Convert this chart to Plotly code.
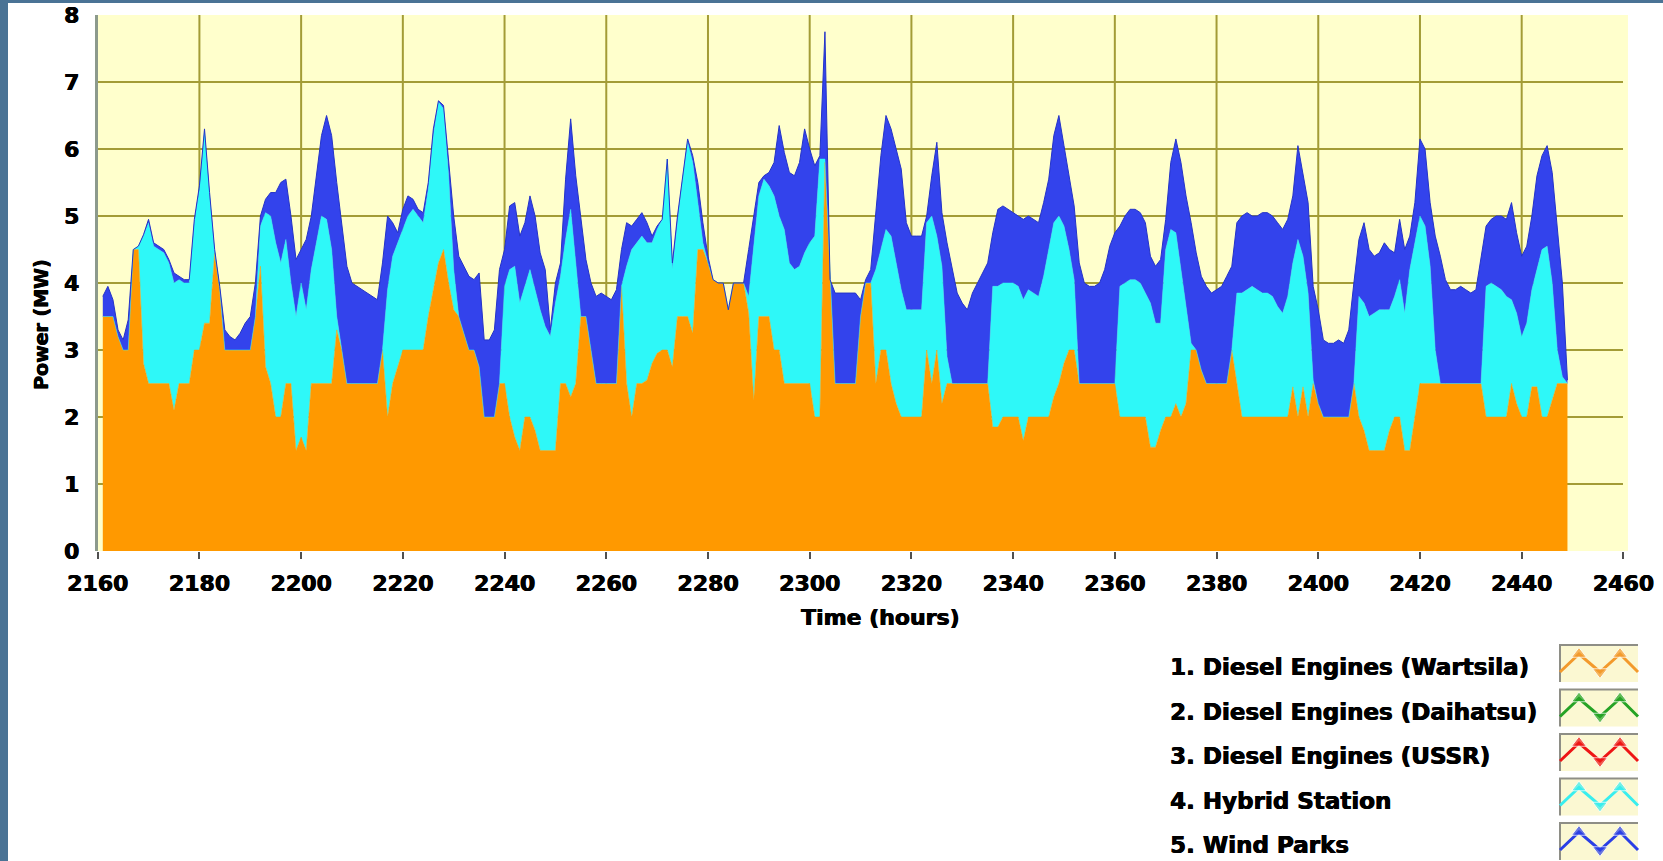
import plotly.graph_objects as go

# ---------------------------------------------------------------------------
# Hourly dispatch of the island power system (MW), hours 2161-2449
# ---------------------------------------------------------------------------
hours = list(range(2161, 2450))

diesel_wartsila = [
    3.5, 3.5, 3.5, 3.2, 3.0, 3.0, 4.5, 4.5, 2.8, 2.5,
    2.5, 2.5, 2.5, 2.5, 2.1, 2.5, 2.5, 2.5, 3.0, 3.0,
    3.4, 3.4, 4.45, 3.9, 3.0, 3.0, 3.0, 3.0, 3.0, 3.0,
    3.5, 4.25, 2.75, 2.5, 2.0, 2.0, 2.5, 2.5, 1.5, 1.7,
    1.5, 2.5, 2.5, 2.5, 2.5, 2.5, 3.3, 3.0, 2.5, 2.5,
    2.5, 2.5, 2.5, 2.5, 2.5, 3.0, 2.0, 2.5, 2.75, 3.0,
    3.0, 3.0, 3.0, 3.0, 3.5, 3.9, 4.3, 4.5, 4.0, 3.6,
    3.5, 3.25, 3.0, 3.0, 2.75, 2.0, 2.0, 2.0, 2.5, 2.5,
    2.0, 1.7, 1.5, 2.0, 2.0, 1.8, 1.5, 1.5, 1.5, 1.5,
    2.5, 2.5, 2.3, 2.5, 3.5, 3.5, 3.0, 2.5, 2.5, 2.5,
    2.5, 2.5, 3.95, 2.5, 2.0, 2.5, 2.5, 2.55, 2.8, 2.95,
    3.0, 3.0, 2.75, 3.5, 3.5, 3.5, 3.25, 4.5, 4.5, 4.3,
    4.05, 4.0, 4.0, 3.6, 4.0, 4.0, 4.0, 3.55, 2.25, 3.5,
    3.5, 3.5, 3.0, 3.0, 2.5, 2.5, 2.5, 2.5, 2.5, 2.5,
    2.0, 2.0, 5.8, 4.05, 2.5, 2.5, 2.5, 2.5, 2.5, 3.5,
    4.0, 4.0, 2.5, 3.0, 3.0, 2.5, 2.2, 2.0, 2.0, 2.0,
    2.0, 2.0, 3.0, 2.5, 3.0, 2.2, 2.5, 2.5, 2.5, 2.5,
    2.5, 2.5, 2.5, 2.5, 2.5, 1.85, 1.85, 2.0, 2.0, 2.0,
    2.0, 1.65, 2.0, 2.0, 2.0, 2.0, 2.0, 2.3, 2.5, 2.8,
    3.0, 3.0, 2.5, 2.5, 2.5, 2.5, 2.5, 2.5, 2.5, 2.5,
    2.0, 2.0, 2.0, 2.0, 2.0, 2.0, 1.55, 1.55, 1.8, 2.0,
    2.0, 2.2, 2.0, 2.2, 3.0, 3.0, 2.7, 2.5, 2.5, 2.5,
    2.5, 2.5, 3.0, 2.5, 2.0, 2.0, 2.0, 2.0, 2.0, 2.0,
    2.0, 2.0, 2.0, 2.0, 2.45, 2.0, 2.45, 2.0, 2.5, 2.2,
    2.0, 2.0, 2.0, 2.0, 2.0, 2.0, 2.5, 2.0, 1.8, 1.5,
    1.5, 1.5, 1.5, 1.8, 2.0, 2.0, 1.5, 1.5, 2.0, 2.5,
    2.5, 2.5, 2.5, 2.5, 2.5, 2.5, 2.5, 2.5, 2.5, 2.5,
    2.5, 2.5, 2.0, 2.0, 2.0, 2.0, 2.0, 2.5, 2.2, 2.0,
    2.0, 2.45, 2.45, 2.0, 2.0, 2.25, 2.5, 2.5, 2.5,
]

hybrid_station = [
    0, 0, 0, 0, 0, 0, 0, 0.05, 1.9, 2.4,
    2.05, 2.0, 1.95, 1.8, 1.9, 1.55, 1.5, 1.5, 1.9, 2.4,
    2.85, 1.9, 0, 0, 0, 0, 0, 0, 0, 0,
    0, 0.6, 2.3, 2.5, 2.6, 2.3, 2.15, 1.5, 2.0, 2.3,
    2.1, 1.7, 2.1, 2.5, 2.45, 2.0, 0.2, 0, 0, 0,
    0, 0, 0, 0, 0, 0, 1.9, 1.9, 1.85, 1.8,
    2.0, 2.1, 2.0, 1.9, 1.9, 2.3, 2.4, 2.1, 1.6, 0.6,
    0, 0, 0, 0, 0, 0, 0, 0, 0, 1.45,
    2.2, 2.55, 2.2, 1.95, 2.2, 2.1, 2.1, 1.85, 1.7, 2.2,
    1.6, 2.15, 2.8, 1.8, 0, 0, 0, 0, 0, 0,
    0, 0, 0, 1.75, 2.5, 2.1, 2.2, 2.05, 1.8, 1.85,
    1.95, 2.85, 1.45, 1.4, 2.05, 2.6, 2.55, 0.7, 0.1, 0,
    0, 0, 0, 0, 0, 0, 0, 0.25, 2.25, 1.8,
    2.05, 1.95, 2.3, 2.0, 2.3, 1.8, 1.7, 1.75, 1.95, 2.1,
    2.7, 3.85, 0.05, 0, 0, 0, 0, 0, 0, 0,
    0, 0, 1.7, 1.5, 1.8, 2.2, 2.1, 1.9, 1.6, 1.6,
    1.6, 1.6, 1.9, 2.5, 1.7, 2.05, 0.4, 0, 0, 0,
    0, 0, 0, 0, 0, 2.1, 2.1, 2.0, 2.0, 2.0,
    1.95, 2.1, 1.9, 1.85, 1.8, 2.1, 2.5, 2.6, 2.5, 2.05,
    1.5, 1.05, 0, 0, 0, 0, 0, 0, 0, 0,
    1.95, 2.0, 2.05, 2.05, 2.0, 1.85, 2.15, 1.85, 1.6, 2.5,
    2.8, 2.55, 2.2, 1.4, 0.1, 0, 0, 0, 0, 0,
    0, 0, 0, 1.35, 1.85, 1.9, 1.95, 1.9, 1.85, 1.85,
    1.8, 1.65, 1.55, 1.8, 1.85, 2.65, 1.95, 1.85, 0.05, 0,
    0, 0, 0, 0, 0, 0, 0, 1.8, 1.9, 2.0,
    2.05, 2.1, 2.1, 1.8, 1.8, 2.05, 2.05, 2.7, 2.6, 2.5,
    2.35, 1.75, 0.5, 0, 0, 0, 0, 0, 0, 0,
    0, 0, 1.95, 2.0, 1.95, 1.9, 1.8, 1.25, 1.35, 1.2,
    1.4, 1.45, 1.75, 2.5, 2.55, 1.75, 0.5, 0.1, 0,
]

wind_parks = [
    0.3, 0.45, 0.25, 0.1, 0.15, 0.45, 0, 0, 0.02, 0.05,
    0.05, 0.05, 0.05, 0.05, 0.15, 0.05, 0.05, 0.05, 0.05, 0.05,
    0.05, 0.05, 0.05, 0.05, 0.3, 0.2, 0.15, 0.25, 0.4, 0.5,
    0.5, 0.15, 0.2, 0.35, 0.75, 1.2, 0.9, 1.0, 0.85, 0.5,
    1.05, 0.8, 1.0, 1.2, 1.55, 1.7, 2.0, 1.9, 1.75, 1.5,
    1.45, 1.4, 1.35, 1.3, 1.25, 1.3, 1.1, 0.5, 0.15, 0.3,
    0.3, 0.15, 0.1, 0.15, 0.1, 0.1, 0.02, 0.05, 0.2, 0.8,
    0.9, 1.0, 1.1, 1.05, 1.4, 1.15, 1.15, 1.3, 1.7, 0.55,
    0.95, 0.95, 1.0, 0.95, 1.1, 1.1, 0.85, 0.85, 0.1, 0.3,
    0.2, 0.9, 1.35, 1.3, 1.5, 0.85, 1.0, 1.3, 1.35, 1.3,
    1.25, 1.4, 0.55, 0.65, 0.35, 0.35, 0.35, 0.3, 0.1, 0.05,
    0, 0, 0.1, 0.1, 0.05, 0.05, 0.1, 0.3, 0.3, 0.1,
    0, 0, 0, 0, 0, 0, 0, 0.7, 0.5, 0.2,
    0.05, 0.2, 0.5, 1.35, 1.15, 1.35, 1.4, 1.55, 1.85, 1.4,
    1.05, 0.05, 1.9, 0, 1.35, 1.35, 1.35, 1.35, 1.35, 0.25,
    0.05, 0.2, 0.85, 1.4, 1.7, 1.6, 1.7, 1.8, 1.3, 1.1,
    1.1, 1.1, 0.1, 0.6, 1.4, 0.8, 1.7, 1.7, 1.35, 1.2,
    1.1, 1.35, 1.5, 1.65, 1.8, 0.8, 1.15, 1.15, 1.1, 1.05,
    1.05, 1.2, 1.1, 1.1, 1.1, 1.1, 1.05, 1.3, 1.5, 1.2,
    1.1, 1.1, 1.8, 1.5, 1.45, 1.45, 1.5, 1.7, 2.05, 2.25,
    0.9, 1.0, 1.05, 1.05, 1.05, 1.05, 0.7, 0.85, 0.95, 0.45,
    1.0, 1.4, 1.6, 1.7, 1.8, 1.45, 1.4, 1.45, 1.35, 1.4,
    1.45, 1.6, 1.25, 1.05, 1.15, 1.15, 1.05, 1.1, 1.2, 1.2,
    1.2, 1.25, 1.25, 1.15, 1.0, 1.4, 1.2, 1.35, 1.4, 1.4,
    1.15, 1.1, 1.1, 1.15, 1.1, 1.3, 1.5, 0.85, 1.2, 1.0,
    0.85, 0.85, 1.0, 0.9, 0.65, 0.9, 0.95, 0.5, 0.6, 1.15,
    1.15, 0.95, 1.7, 1.9, 1.55, 1.4, 1.4, 1.45, 1.4, 1.35,
    1.4, 1.9, 0.9, 0.95, 1.05, 1.1, 1.15, 1.45, 1.2, 1.2,
    1.15, 1.1, 1.4, 1.4, 1.5, 1.65, 1.8, 1.4, 0.05,
]

legend_names = [
    "1. Diesel Engines (Wartsila)",
    "2. Diesel Engines (Daihatsu)",
    "3. Diesel Engines (USSR)",
    "4. Hybrid Station",
    "5. Wind Parks",
]
legend_colors = ["#F39A2C", "#25A325", "#EE1515", "#38EEEE", "#2A3FE6"]

x_ticks = list(range(2160, 2461, 20))
y_ticks = list(range(0, 9))

# ---------------------------------------------------------------------------
# Page geometry (pixels)
# ---------------------------------------------------------------------------
W, H = 1663, 861
PL, PR, PT, PB = 97.7, 1623.4, 15.0, 551.0
FONT = "DejaVu Sans"
HEAVY = "0.6px 0px 0px black, -0.3px 0px 0px black"

ORANGE = "#FF9900"
CYAN = "#2EF8F8"
BLUE = "#3343EC"
GRID = "#A39C36"

fig = go.Figure()

# stacked production areas
for name, vals, col, edge in [
    (legend_names[0], diesel_wartsila, ORANGE, ORANGE),
    (legend_names[3], hybrid_station, CYAN, CYAN),
    (legend_names[4], wind_parks, BLUE, "#2433C8"),
]:
    fig.add_trace(go.Scatter(
        x=hours, y=vals, name=name, mode="lines", stackgroup="power",
        line=dict(width=1 if col == BLUE else 0.5, color=edge, shape="linear"),
        fillcolor=col, xaxis="x", yaxis="y", showlegend=False,
    ))

# legend swatches: zig-zag line with triangle markers, drawn in page pixels
row_y = [667, 711.5, 756, 800.5, 845]
sw_x = [1560, 1579, 1600, 1620, 1638]
for name, col, yc in zip(legend_names, legend_colors, row_y):
    base, peak = yc + 5, yc - 13
    fig.add_trace(go.Scatter(
        x=sw_x, y=[base, peak, base, peak, base],
        mode="lines+markers", xaxis="x2", yaxis="y2", showlegend=False,
        line=dict(color=col, width=3),
        marker=dict(color=col,
                    symbol=["circle", "triangle-up", "triangle-down", "triangle-up", "circle"],
                    size=[0, 13, 13, 13, 0]),
        hoverinfo="skip",
    ))

shapes = [
    # plot background
    dict(type="rect", xref="x domain", yref="y domain", x0=0, x1=1.003, y0=0, y1=1,
         fillcolor="#FFFFCC", line=dict(width=0), layer="below"),
]
# vertical grid lines inside the plot (none on the right edge)
for v in x_ticks[1:-1]:
    shapes.append(dict(type="line", xref="x", yref="y domain", x0=v, x1=v, y0=0, y1=1,
                       line=dict(color=GRID, width=2), layer="below"))
# textured frame of the slide
shapes += [
    dict(type="rect", xref="paper", yref="paper", x0=0, x1=8 / W, y0=0, y1=1,
         fillcolor="#4A7395", line=dict(width=0), layer="above"),
    dict(type="rect", xref="paper", yref="paper", x0=0, x1=1, y0=1 - 3 / H, y1=1,
         fillcolor="#4A7395", line=dict(width=0), layer="above"),
]
for yc in row_y:
    top, bot = yc - 22, yc + 15
    shapes.append(dict(type="rect", xref="x2", yref="y2", x0=1560, x1=1638, y0=top, y1=bot,
                       fillcolor="#FBF8D2", line=dict(width=0), layer="below"))
    shapes.append(dict(type="line", xref="x2", yref="y2", x0=1559, x1=1638, y0=top, y1=top,
                       line=dict(color="#8E8E86", width=2), layer="below"))
    shapes.append(dict(type="line", xref="x2", yref="y2", x0=1560, x1=1560, y0=top, y1=bot,
                       line=dict(color="#8E8E86", width=2), layer="below"))

annotations = [
    dict(text="Time (hours)", xref="paper", yref="paper", x=880 / W, y=1 - 617 / H,
         xanchor="center", yanchor="middle", showarrow=False,
         font=dict(family=FONT, size=22, color="black", weight="bold", shadow=HEAVY)),
    dict(text="Power (MW)", xref="paper", yref="paper", x=41 / W, y=1 - 325 / H,
         xanchor="center", yanchor="middle", showarrow=False, textangle=-90,
         font=dict(family=FONT, size=19, color="black", weight="bold", shadow=HEAVY)),
]
for name, yc in zip(legend_names, row_y):
    annotations.append(dict(
        text=name, xref="paper", yref="paper", x=1168 / W, y=1 - yc / H,
        xanchor="left", yanchor="middle", showarrow=False,
        font=dict(family=FONT, size=23, color="black", weight="bold", shadow=HEAVY)))

tick_font = dict(family=FONT, size=22, color="black", weight="bold", shadow=HEAVY)

fig.update_layout(
    width=W, height=H,
    margin=dict(l=0, r=0, t=0, b=0, pad=0, autoexpand=False),
    paper_bgcolor="white",
    plot_bgcolor="rgba(0,0,0,0)",
    font=dict(family=FONT),
    showlegend=False,
    xaxis=dict(
        domain=[PL / W, PR / W], range=[2160, 2460], anchor="y", automargin=False,
        tickmode="array", tickvals=x_ticks, ticktext=[str(v) for v in x_ticks],
        ticks="outside", ticklen=7, tickwidth=2, tickcolor="#505050",
        ticklabelstandoff=6,
        showgrid=False, showline=False, zeroline=False, tickfont=tick_font,
    ),
    yaxis=dict(
        domain=[1 - PB / H, 1 - PT / H], range=[0, 8], anchor="x", automargin=False,
        tickmode="array", tickvals=y_ticks, ticktext=[str(v) for v in y_ticks],
        ticks="", ticklabelstandoff=11,
        showgrid=True, gridcolor=GRID, gridwidth=2,
        showline=True, linecolor="#8C9A8C", linewidth=3,
        zeroline=False, tickfont=tick_font,
    ),
    xaxis2=dict(domain=[0, 1], range=[0, W], anchor="y2", visible=False,
                fixedrange=True, automargin=False),
    yaxis2=dict(domain=[0, 1], range=[H, 0], anchor="x2", visible=False,
                fixedrange=True, automargin=False),
    shapes=shapes,
    annotations=annotations,
)

fig.write_html("out.html")
